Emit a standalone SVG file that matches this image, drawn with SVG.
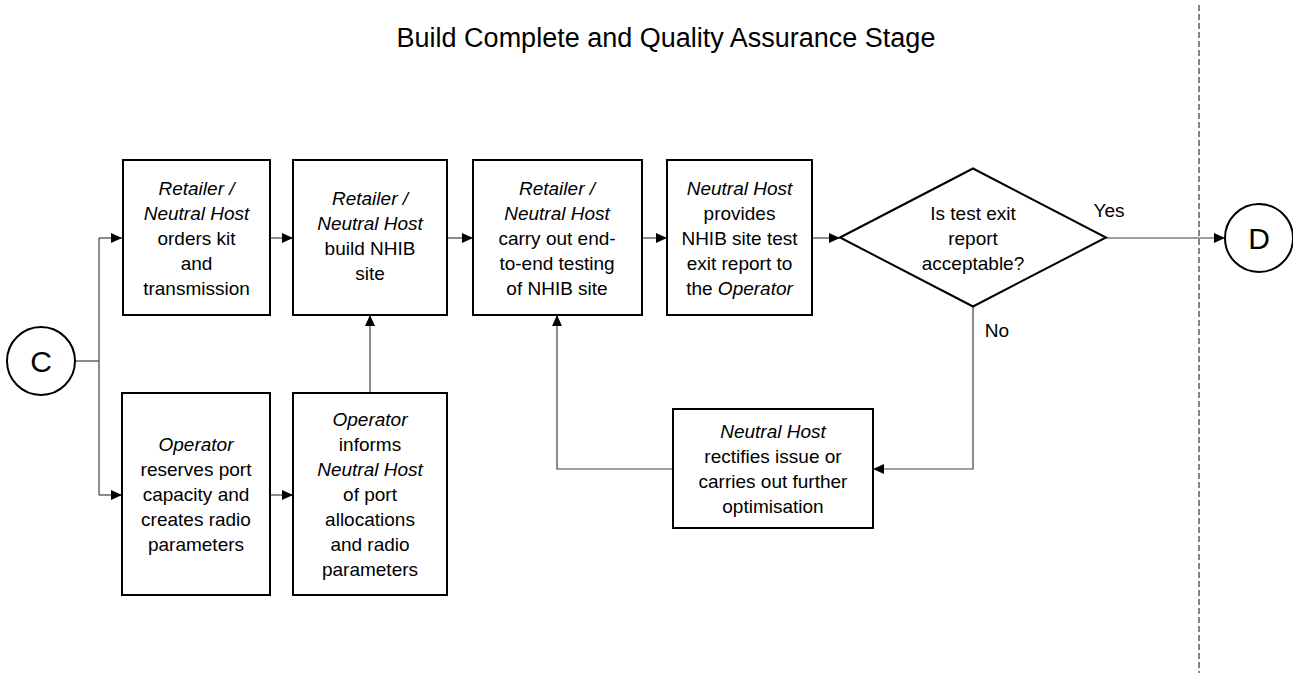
<svg xmlns="http://www.w3.org/2000/svg" width="1293" height="673" viewBox="0 0 1293 673">
<style>
.box{fill:#fff;stroke:#000;stroke-width:2}
.t{font-family:"Liberation Sans",Arial,sans-serif;font-size:19px;fill:#000;text-anchor:middle}
.i{font-style:italic}
.conn{fill:none;stroke:#404040;stroke-width:1.2}
.title{font-family:"Liberation Sans",Arial,sans-serif;font-size:27px;fill:#000;text-anchor:middle}
.big{font-family:"Liberation Sans",Arial,sans-serif;font-size:30px;fill:#000;text-anchor:middle}
</style>
<defs>
<marker id="arr" markerUnits="userSpaceOnUse" markerWidth="12" markerHeight="10" refX="11" refY="5" orient="auto">
<path d="M0,0 L11,5 L0,10 Z" fill="#000"/>
</marker>
</defs>
<rect width="1293" height="673" fill="#fff"/>
<text class="title" x="666" y="47">Build Complete and Quality Assurance Stage</text>
<line x1="1199" y1="5" x2="1199" y2="673" stroke="#333" stroke-width="1.2" stroke-dasharray="6,3"/>

<g id="connectors">
<path class="conn" d="M75,361 H99"/>
<path class="conn" d="M99,238 V495"/>
<path class="conn" d="M99,238 H122" marker-end="url(#arr)"/>
<path class="conn" d="M99,495 H122" marker-end="url(#arr)"/>
<path class="conn" d="M270,238 H293" marker-end="url(#arr)"/>
<path class="conn" d="M447,238 H473" marker-end="url(#arr)"/>
<path class="conn" d="M642,238 H667" marker-end="url(#arr)"/>
<path class="conn" d="M812,238 H840" marker-end="url(#arr)"/>
<path class="conn" d="M270,495 H293" marker-end="url(#arr)"/>
<path class="conn" d="M370,393 V315" marker-end="url(#arr)"/>
<path class="conn" d="M1106,238 H1225" marker-end="url(#arr)"/>
<path class="conn" d="M973,307 V469 H873" marker-end="url(#arr)"/>
<path class="conn" d="M673,469 H557 V315" marker-end="url(#arr)"/>
<text class="t" x="1109" y="217">Yes</text>
<text class="t" x="997" y="337">No</text>
</g>

<g id="C">
<circle cx="41" cy="361" r="34" fill="#fff" stroke="#000" stroke-width="2"/>
<text class="big" x="41" y="372">C</text>
</g>

<g id="D">
<circle cx="1259" cy="238" r="34" fill="#fff" stroke="#000" stroke-width="2"/>
<text class="big" x="1259" y="249">D</text>
</g>

<g id="orders">
<rect class="box" x="123" y="160" width="147" height="155"/>
<text class="t" x="196.5" y="195"><tspan class="i">Retailer /</tspan><tspan class="i" x="196.5" dy="25">Neutral Host</tspan><tspan x="196.5" dy="25">orders kit</tspan><tspan x="196.5" dy="25">and</tspan><tspan x="196.5" dy="25">transmission</tspan></text>
</g>

<g id="build">
<rect class="box" x="293" y="160" width="154" height="155"/>
<text class="t" x="370" y="205"><tspan class="i">Retailer /</tspan><tspan class="i" x="370" dy="25">Neutral Host</tspan><tspan x="370" dy="25">build NHIB</tspan><tspan x="370" dy="25">site</tspan></text>
</g>

<g id="testing">
<rect class="box" x="473" y="160" width="169" height="155"/>
<text class="t" x="557" y="195"><tspan class="i">Retailer /</tspan><tspan class="i" x="557" dy="25">Neutral Host</tspan><tspan x="557" dy="25">carry out end-</tspan><tspan x="557" dy="25">to-end testing</tspan><tspan x="557" dy="25">of NHIB site</tspan></text>
</g>

<g id="report">
<rect class="box" x="667" y="160" width="145" height="155"/>
<text class="t" x="739.5" y="195"><tspan class="i">Neutral Host</tspan><tspan x="739.5" dy="25">provides</tspan><tspan x="739.5" dy="25">NHIB site test</tspan><tspan x="739.5" dy="25">exit report to</tspan><tspan x="739.5" dy="25">the <tspan class="i">Operator</tspan></tspan></text>
</g>

<g id="decision">
<polygon class="box" points="840,237.5 973,168.5 1106,237.5 973,306.5"/>
<text class="t" x="973" y="220">Is test exit<tspan x="973" dy="25">report</tspan><tspan x="973" dy="25">acceptable?</tspan></text>
</g>

<g id="reserves">
<rect class="box" x="122" y="393" width="148" height="202"/>
<text class="t" x="196" y="451"><tspan class="i">Operator</tspan><tspan x="196" dy="25">reserves port</tspan><tspan x="196" dy="25">capacity and</tspan><tspan x="196" dy="25">creates radio</tspan><tspan x="196" dy="25">parameters</tspan></text>
</g>

<g id="informs">
<rect class="box" x="293" y="393" width="154" height="202"/>
<text class="t" x="370" y="426"><tspan class="i">Operator</tspan><tspan x="370" dy="25">informs</tspan><tspan class="i" x="370" dy="25">Neutral Host</tspan><tspan x="370" dy="25">of port</tspan><tspan x="370" dy="25">allocations</tspan><tspan x="370" dy="25">and radio</tspan><tspan x="370" dy="25">parameters</tspan></text>
</g>

<g id="rectify">
<rect class="box" x="673" y="409" width="200" height="119"/>
<text class="t" x="773" y="438"><tspan class="i">Neutral Host</tspan><tspan x="773" dy="25">rectifies issue or</tspan><tspan x="773" dy="25">carries out further</tspan><tspan x="773" dy="25">optimisation</tspan></text>
</g>
</svg>
